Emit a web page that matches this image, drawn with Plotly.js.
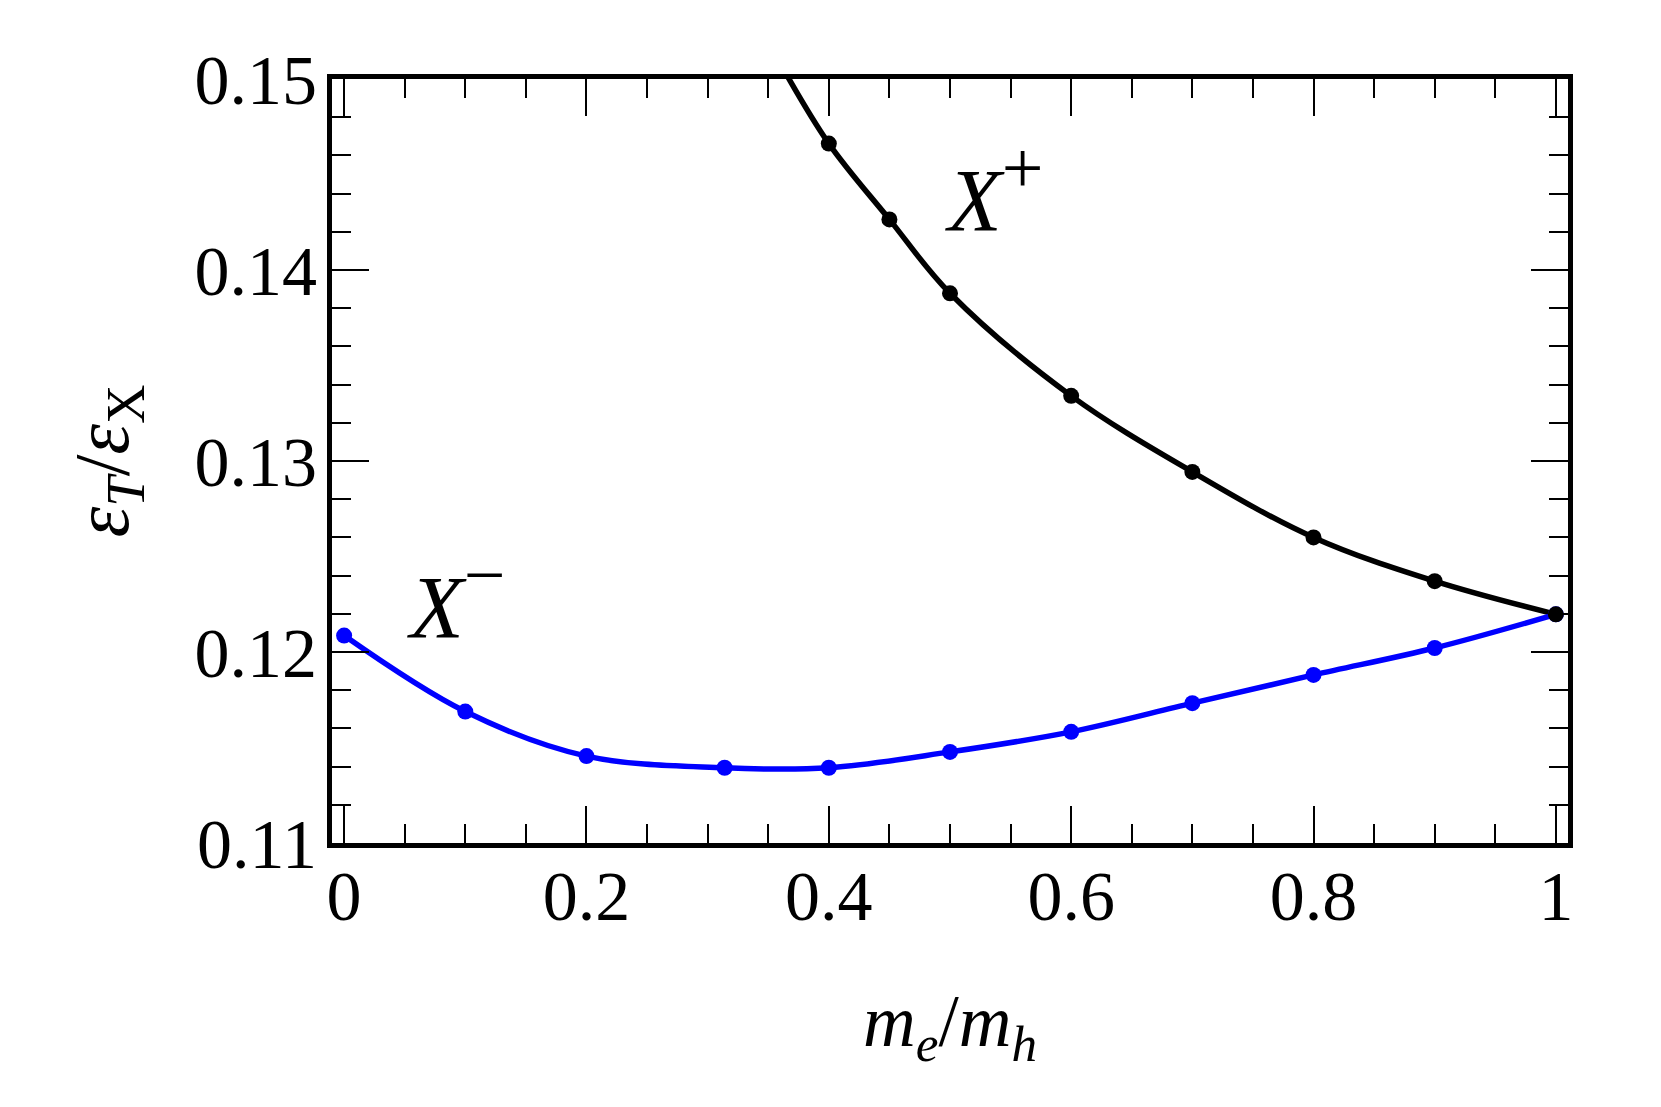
<!DOCTYPE html>
<html>
<head>
<meta charset="utf-8">
<script src="https://cdn.plot.ly/plotly-3.0.1.min.js"></script>
<style>html,body{margin:0;padding:0;background:#fff;}#chart{width:1661px;height:1107px;}</style>
</head>
<body>
<div id="chart"></div>
<script>
// X+ (black) data points
const xPlus = [0.4, 0.45, 0.5, 0.6, 0.7, 0.8, 0.9, 1.0];
const yPlus = [0.14662, 0.14265, 0.13878, 0.13341, 0.12943, 0.12600, 0.12371, 0.12197];
// X+ curve continues beyond the first computed point (leaves the plot at the top)
const xPlusCurve = [0.36].concat(xPlus);
const yPlusCurve = [0.1508].concat(yPlus);
// X- (blue) data points
const xMinus = [0, 0.1, 0.2, 0.314, 0.4, 0.5, 0.6, 0.7, 0.8, 0.9, 1.0];
const yMinus = [0.12086, 0.11688, 0.11455, 0.11394, 0.11394, 0.11477, 0.11582, 0.11732, 0.1188, 0.12021, 0.12197];
// tick labels
const xTickVals = [0, 0.2, 0.4, 0.6, 0.8, 1];
const xTickText = ['0', '0.2', '0.4', '0.6', '0.8', '1'];
const yTickVals = [0.11, 0.12, 0.13, 0.14, 0.15];
const yTickText = ['0.11', '0.12', '0.13', '0.14', '0.15'];

const serif = 'Liberation Serif, Times New Roman, serif';

const traces = [
  {x: xPlusCurve, y: yPlusCurve, mode: 'lines', line: {color: '#000', width: 5.5, shape: 'spline', smoothing: 1}, hoverinfo: 'skip', showlegend: false},
  {x: xMinus, y: yMinus, mode: 'lines+markers', line: {color: '#0000ff', width: 5.5, shape: 'spline', smoothing: 1}, marker: {color: '#0000ff', size: 16}, showlegend: false},
  {x: xPlus, y: yPlus, mode: 'markers', marker: {color: '#000', size: 16}, showlegend: false}
];

const axisCommon = {
  showgrid: false, zeroline: false,
  showline: true, linecolor: '#000', linewidth: 5, mirror: 'allticks',
  ticks: 'inside', tickcolor: '#000', tickwidth: 2, ticklen: 37,
  tickfont: {family: serif, size: 70, color: '#000'}
};

const layout = {
  width: 1661, height: 1107,
  paper_bgcolor: '#fff', plot_bgcolor: '#fff',
  margin: {l: 332, r: 93, t: 79, b: 264},
  xaxis: Object.assign({}, axisCommon, {
    range: [-0.01, 1.01],
    tickmode: 'array', tickvals: xTickVals, ticktext: xTickText,
    minor: {dtick: 0.05, tick0: 0, ticks: 'inside', ticklen: 19, tickwidth: 2, tickcolor: '#000', showgrid: false},
    ticklabelstandoff: -12,
    title: {text: '<i>m</i><sub><i>e</i></sub>/<i>m</i><sub><i>h</i></sub>', font: {family: serif, size: 73, color: '#000'}, standoff: 62}
  }),
  yaxis: Object.assign({}, axisCommon, {
    range: [0.11, 0.15],
    tickmode: 'array', tickvals: yTickVals, ticktext: yTickText,
    minor: {dtick: 0.002, tick0: 0.11, ticks: 'inside', ticklen: 19, tickwidth: 2, tickcolor: '#000', showgrid: false},
    ticklabelstandoff: -4,
    title: {text: '<i>ε</i><sub><i>T</i></sub>/<i>ε</i><sub>X</sub>', font: {family: serif, size: 78, color: '#000'}, standoff: 42}
  }),
  annotations: [
    {x: 0.494, y: 0.1443, xref: 'x', yref: 'y', xanchor: 'left', yanchor: 'middle', showarrow: false,
     text: '<i>X</i><sup><span style="font-size:74px">+</span></sup>', font: {family: serif, size: 88, color: '#000'}},
    {x: 0.0505, y: 0.1230, xref: 'x', yref: 'y', xanchor: 'left', yanchor: 'middle', showarrow: false,
     text: '<i>X</i><sup><span style="font-size:74px">−</span></sup>', font: {family: serif, size: 88, color: '#000'}}
  ]
};

Plotly.newPlot('chart', traces, layout, {displayModeBar: false, staticPlot: true});
</script>
</body>
</html>
